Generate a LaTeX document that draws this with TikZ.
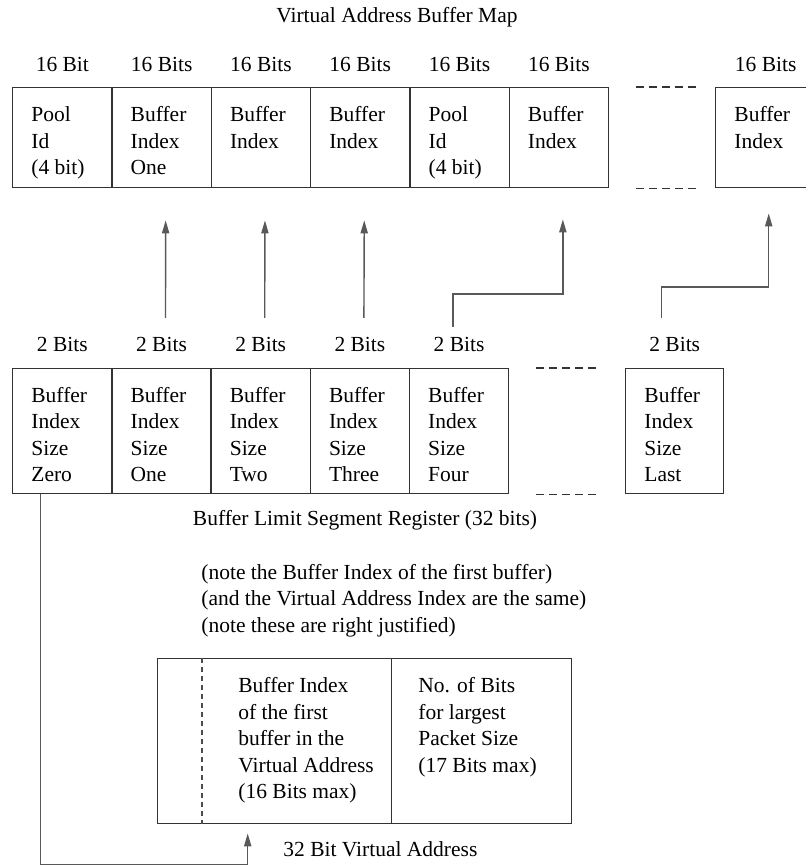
\documentclass[tikz,border=0pt]{standalone}
\usepackage{fontspec}
\setmainfont{Liberation Serif}
\usetikzlibrary{arrows.meta,positioning}

\tikzset{
  cell/.style={draw=black!80, line width=0.7pt, anchor=north west, inner sep=0pt},
  celltext/.style={anchor=north west, align=left, inner sep=0pt},
  bits/.style={anchor=base, inner sep=0pt},
  arr/.style={draw=black!65, line width=0.7pt, -{Triangle[length=6.5pt,width=3.6pt]}},
  gapdash/.style={draw=black!80, line width=0.7pt, dash pattern=on 4pt off 2.5pt},
}

\begin{document}
\begin{tikzpicture}[x=0.5pt, y=-0.5pt, font=\fontsize{10.75}{13.25}\selectfont]
  \useasboundingbox (0,0) rectangle (806,865);

  \node[bits] (title) at (397,23) {Virtual Address Buffer Map};

  % virtual address buffer map
  \node[cell, minimum width=49.65pt, minimum height=50pt] (t1) at (12,87) {};
  \node[cell, minimum width=49.65pt, minimum height=50pt] (t2) at (111.3,87) {};
  \node[cell, minimum width=49.65pt, minimum height=50pt] (t3) at (210.6,87) {};
  \node[cell, minimum width=49.65pt, minimum height=50pt] (t4) at (309.9,87) {};
  \node[cell, minimum width=49.65pt, minimum height=50pt] (t5) at (409.2,87) {};
  \node[cell, minimum width=49.65pt, minimum height=50pt] (t6) at (508.5,87) {};
  \node[cell, minimum width=50pt, minimum height=50pt] (tlast) at (715,87) {};

  \node[celltext] (t1txt) at ([shift={(9.5pt,-8pt)}]t1.north west) {\strut Pool\\Id\\(4 bit)};
  \node[celltext] (t2txt) at ([shift={(9.5pt,-8pt)}]t2.north west) {\strut Buffer\\Index\\One};
  \node[celltext] (t3txt) at ([shift={(9.5pt,-8pt)}]t3.north west) {\strut Buffer\\Index};
  \node[celltext] (t4txt) at ([shift={(9.5pt,-8pt)}]t4.north west) {\strut Buffer\\Index};
  \node[celltext] (t5txt) at ([shift={(9.5pt,-8pt)}]t5.north west) {\strut Pool\\Id\\(4 bit)};
  \node[celltext] (t6txt) at ([shift={(9.5pt,-8pt)}]t6.north west) {\strut Buffer\\Index};
  \node[celltext] (tlasttxt) at ([shift={(9.5pt,-8pt)}]tlast.north west) {\strut Buffer\\Index};

  \node[bits] (t1bits) at ([yshift=7.5pt]t1.north) {16 Bit};
  \node[bits] (t2bits) at ([yshift=7.5pt]t2.north) {16 Bits};
  \node[bits] (t3bits) at ([yshift=7.5pt]t3.north) {16 Bits};
  \node[bits] (t4bits) at ([yshift=7.5pt]t4.north) {16 Bits};
  \node[bits] (t5bits) at ([yshift=7.5pt]t5.north) {16 Bits};
  \node[bits] (t6bits) at ([yshift=7.5pt]t6.north) {16 Bits};
  \node[bits] (tlastbits) at ([yshift=7.5pt]tlast.north) {16 Bits};

  \draw[gapdash] ([xshift=13.5pt]t6.north east) -- ++(62,0);
  \draw[gapdash] ([xshift=13.5pt]t6.south east) -- ++(62,0);

  % buffer limit segment register
  \node[cell, minimum width=49.6pt, minimum height=62.5pt] (m1) at (12,368) {};
  \node[cell, minimum width=49.6pt, minimum height=62.5pt] (m2) at (111.2,368) {};
  \node[cell, minimum width=49.6pt, minimum height=62.5pt] (m3) at (210.4,368) {};
  \node[cell, minimum width=49.6pt, minimum height=62.5pt] (m4) at (309.6,368) {};
  \node[cell, minimum width=49.6pt, minimum height=62.5pt] (m5) at (408.8,368) {};
  \node[cell, minimum width=49pt, minimum height=62.5pt] (mlast) at (625,368) {};

  \node[celltext] (m1txt) at ([shift={(9.5pt,-7.7pt)}]m1.north west) {\strut Buffer\\Index\\Size\\Zero};
  \node[celltext] (m2txt) at ([shift={(9.5pt,-7.7pt)}]m2.north west) {\strut Buffer\\Index\\Size\\One};
  \node[celltext] (m3txt) at ([shift={(9.5pt,-7.7pt)}]m3.north west) {\strut Buffer\\Index\\Size\\Two};
  \node[celltext] (m4txt) at ([shift={(9.5pt,-7.7pt)}]m4.north west) {\strut Buffer\\Index\\Size\\Three};
  \node[celltext] (m5txt) at ([shift={(9.5pt,-7.7pt)}]m5.north west) {\strut Buffer\\Index\\Size\\Four};
  \node[celltext] (mlasttxt) at ([shift={(9.5pt,-7.7pt)}]mlast.north west) {\strut Buffer\\Index\\Size\\Last};

  \node[bits] (m1bits) at ([yshift=8.2pt]m1.north) {2 Bits};
  \node[bits] (m2bits) at ([yshift=8.2pt]m2.north) {2 Bits};
  \node[bits] (m3bits) at ([yshift=8.2pt]m3.north) {2 Bits};
  \node[bits] (m4bits) at ([yshift=8.2pt]m4.north) {2 Bits};
  \node[bits] (m5bits) at ([yshift=8.2pt]m5.north) {2 Bits};
  \node[bits] (mlastbits) at ([yshift=8.2pt]mlast.north) {2 Bits};

  \draw[gapdash] ([xshift=13.5pt]m5.north east) -- ++(62,0);
  \draw[gapdash] ([xshift=13.5pt]m5.south east) -- ++(62,0);

  \node[bits] (segreg) at (365,525) {Buffer Limit Segment Register (32 bits)};
  \node[celltext] (notes) at (201,560.5) {\strut(note the Buffer Index of the first buffer)\\(and the Virtual Address Index are the same)\\(note these are right justified)};

  % 32 bit virtual address
  \node[cell, minimum width=117pt, minimum height=82.5pt] (vaidx) at (157,658) {};
  \node[cell, minimum width=90pt, minimum height=82.5pt] (vabits) at (391,658) {};
  \draw[draw=black!70, line width=0.6pt, dash pattern=on 2.5pt off 2pt]
    ([xshift=22.5pt]vaidx.north west) -- ([xshift=22.5pt]vaidx.south west);
  \node[celltext] (vaidxtxt) at ([shift={(40.5pt,-8pt)}]vaidx.north west) {\strut Buffer Index\\of the first\\buffer in the\\Virtual Address\\(16 Bits max)};
  \node[celltext] (vabitstxt) at ([shift={(13.5pt,-8pt)}]vabits.north west) {\strut No. of Bits\\for largest\\Packet Size\\(17 Bits max)};
  \node[bits, anchor=base west] (valabel) at (283,856) {32 Bit Virtual Address};

  % connectors
  \draw[arr] ([xshift=2pt,yshift=25pt]m2.north) -- ([xshift=2pt,yshift=-16pt]t2.south);
  \draw[arr] ([xshift=2pt,yshift=25pt]m3.north) -- ([xshift=2pt,yshift=-16pt]t3.south);
  \draw[arr] ([xshift=2pt,yshift=25pt]m4.north) -- ([xshift=2pt,yshift=-16pt]t4.south);
  \draw[arr] ([xshift=-3pt,yshift=20.5pt]m5.north) -- ++(0,-33) -| ([xshift=2pt,yshift=-15.5pt]t6.south);
  \draw[arr] ([xshift=-6.5pt,yshift=25pt]mlast.north) -- ++(0,-31) -| ([xshift=1.5pt,yshift=-12.5pt]tlast.south);
  \draw[arr] ([xshift=-10.8pt]m1.south) -- ++(0,370) -| ([xshift=-13.5pt,yshift=-4.5pt]vaidx.south);
\end{tikzpicture}
\end{document}
